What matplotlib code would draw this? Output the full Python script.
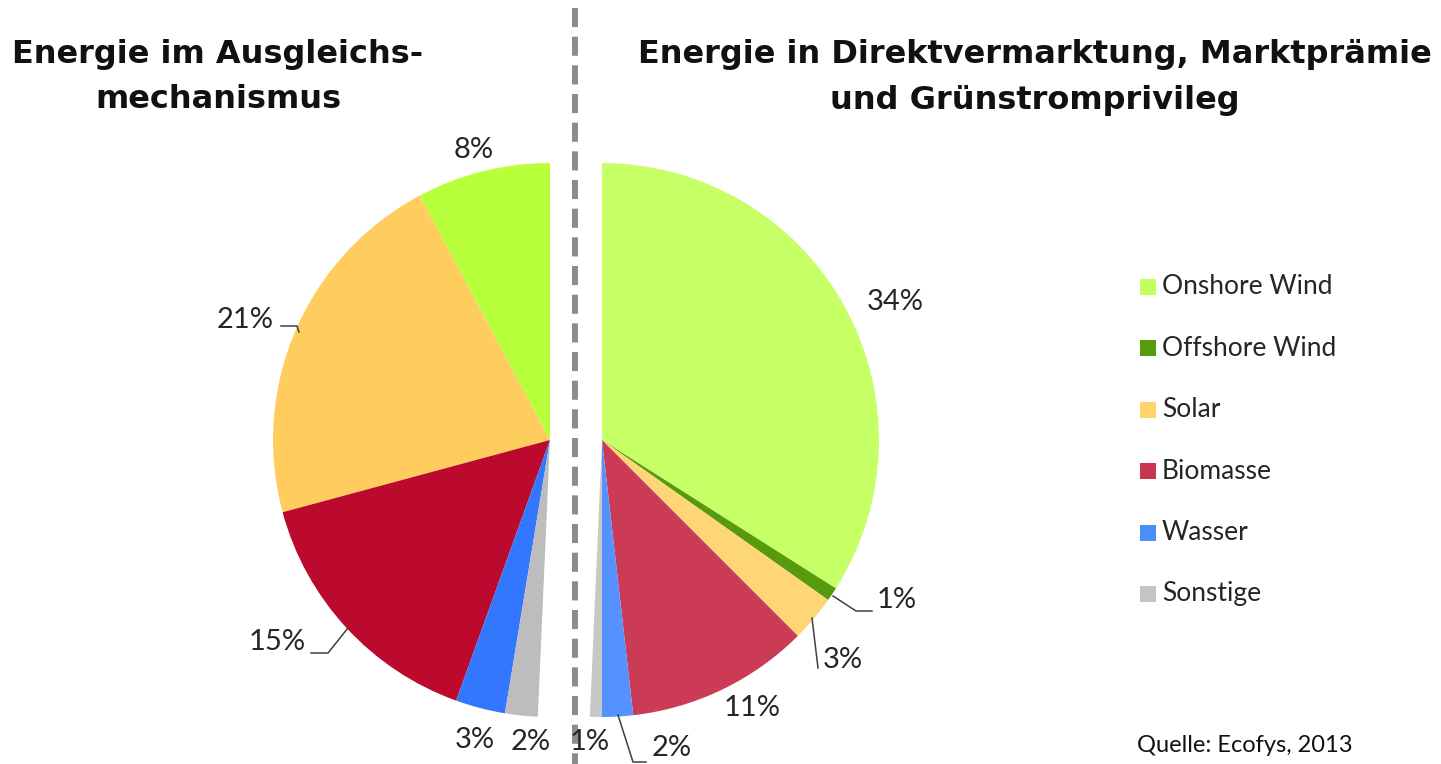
import matplotlib
matplotlib.use("Agg")
import matplotlib.pyplot as plt
from matplotlib.patches import Rectangle

# Anteile am Gesamtwert in Prozent
left_names = ["Onshore Wind", "Solar", "Biomasse", "Wasser", "Sonstige"]
left_values = [7.8, 21.4, 15.3, 2.9, 1.9]
left_colors = ["#b8ff3c", "#ffcc5e", "#bc0a2f", "#3377ff", "#bdbdbd"]

right_names = ["Onshore Wind", "Offshore Wind", "Solar", "Biomasse", "Wasser", "Sonstige"]
right_values = [34.0, 0.8, 2.7, 10.7, 1.8, 0.7]
right_colors = ["#c6ff66", "#579a0c", "#ffd676", "#cb3b56", "#5592ff", "#c8c8c8"]

legend_names = ["Onshore Wind", "Offshore Wind", "Solar", "Biomasse", "Wasser", "Sonstige"]
legend_colors = ["#c3ff5e", "#579a0c", "#ffd36e", "#c8334f", "#4a8ff5", "#c4c4c4"]

W, H = 1441, 764
fig = plt.figure(figsize=(W / 100, H / 100), dpi=100)
ax = fig.add_axes([0, 0, 1, 1])
ax.set_xlim(0, W)
ax.set_ylim(0, H)
ax.set_aspect("equal")
ax.axis("off")

def Y(y):
    # Bildkoordinate (von oben) -> Achsenkoordinate
    return H - y

R = 277
cy = 440
ax.pie([v / 100 for v in left_values], colors=left_colors, startangle=90,
       counterclock=True, center=(550, Y(cy)), radius=R, normalize=False,
       wedgeprops=dict(linewidth=0))
ax.pie([v / 100 for v in right_values], colors=right_colors, startangle=90,
       counterclock=False, center=(602, Y(cy)), radius=R, normalize=False,
       wedgeprops=dict(linewidth=0))
ax.set_xlim(0, W)
ax.set_ylim(0, H)

# gestrichelte Trennlinie
ax.plot([575, 575], [Y(8), Y(764)], color="#8c8c8c", lw=4.3,
        dashes=(3.2, 1.6), solid_capstyle="butt")

lab_font = dict(family="Lato", fontsize=21, color="#262626")
left_pos = [(474, 150), (245, 320), (277, 642), (475, 740), (531, 742)]
right_pos = [(895, 302), (897, 600), (843, 660), (752, 708), (672, 748), (590, 742)]
for v, (x, y) in zip(left_values, left_pos):
    ax.text(x, Y(y), f"{round(v)}%", ha="center", va="center", **lab_font)
for v, (x, y) in zip(right_values, right_pos):
    ax.text(x, Y(y), f"{round(v)}%", ha="center", va="center", **lab_font)

# Führungslinien
lead = dict(color="#404040", lw=1.1)
ax.plot([281, 297, 299], [Y(326), Y(326), Y(332)], **lead)
ax.plot([311, 328, 348], [Y(653), Y(653), Y(628)], **lead)
ax.plot([833, 856, 872], [Y(596), Y(611), Y(611)], **lead)
ax.plot([812, 818], [Y(618), Y(668)], **lead)
ax.plot([618, 633, 646], [Y(715), Y(762), Y(762)], **lead)

# Titel
title_font = dict(family="DejaVu Sans", fontweight="bold", fontsize=23, color="#111111")
ax.text(218, Y(55), "Energie im Ausgleichs-", ha="center", va="center", **title_font)
ax.text(218, Y(100), "mechanismus", ha="center", va="center", **title_font)
ax.text(1035, Y(55), "Energie in Direktvermarktung, Marktprämie", ha="center",
        va="center", **title_font)
ax.text(1035, Y(100), "und Grünstromprivileg", ha="center", va="center", **title_font)

# Legende
for i, (name, col) in enumerate(zip(legend_names, legend_colors)):
    yy = 287 + i * 61.4
    ax.add_patch(Rectangle((1140, Y(yy) - 8), 16, 16, color=col, lw=0))
    ax.text(1162, Y(yy), name, ha="left", va="center", family="Lato",
            fontsize=19, color="#262626")

ax.text(1137, Y(745), "Quelle: Ecofys, 2013", ha="left", va="center",
        family="Lato", fontsize=17, color="#111111")

fig.savefig("out.png", dpi=100)
